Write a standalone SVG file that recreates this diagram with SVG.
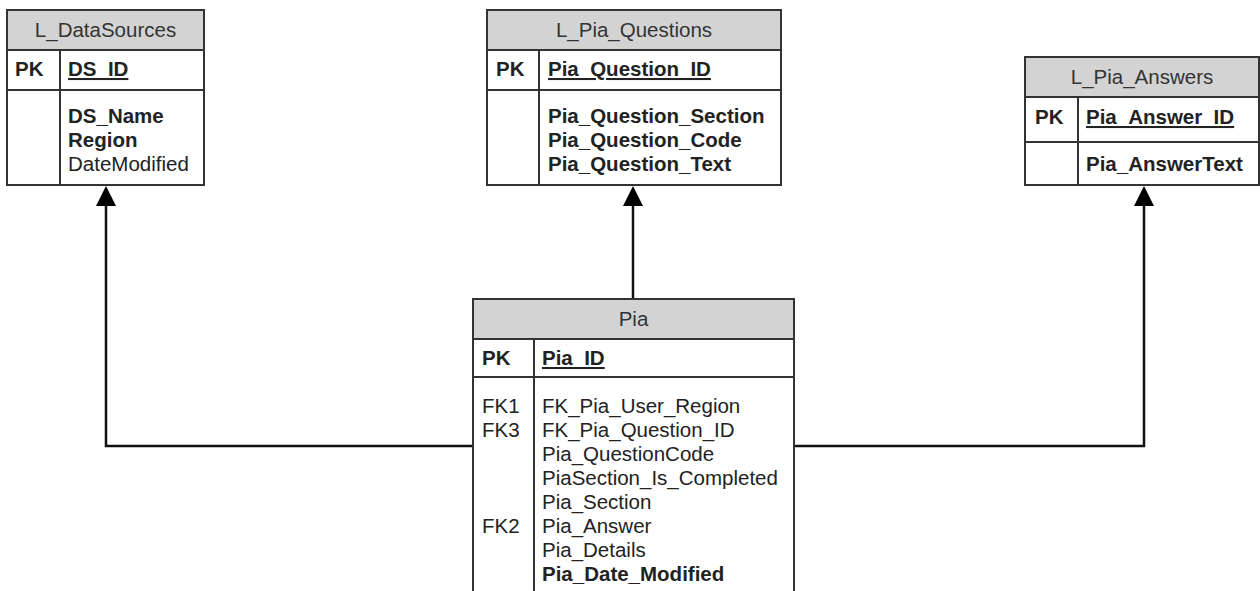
<svg xmlns="http://www.w3.org/2000/svg" width="1260" height="591" viewBox="0 0 1260 591">
<style>
.box{fill:#fff;stroke:#333;stroke-width:2}
.hdr{fill:#d3d3d3;stroke:#333;stroke-width:2}
.ln{stroke:#333;stroke-width:2;fill:none}
text{font-family:"Liberation Sans",Arial,sans-serif;font-size:20.5px;fill:#222}
.h{text-anchor:middle;fill:#333}
.b{font-weight:bold}
.u{text-decoration:underline}
.conn{stroke:#111;stroke-width:2.5;fill:none}
.ah{fill:#000}
</style>
<rect width="1260" height="591" fill="#fff"/>
<g id="connectors">
<path class="conn" d="M473,446 H106 V206"/>
<path class="ah" d="M96,206 L106,186 L116,206 Z"/>
<path class="conn" d="M633,299 V206"/>
<path class="ah" d="M623,206 L633,186 L643,206 Z"/>
<path class="conn" d="M794,446 H1144 V206"/>
<path class="ah" d="M1134,206 L1144,186 L1154,206 Z"/>
</g>
<g id="L_DataSources">
<rect class="box" x="7" y="10" width="197" height="175"/>
<rect class="hdr" x="7" y="10" width="197" height="40"/>
<line class="ln" x1="7" y1="90" x2="204" y2="90"/>
<line class="ln" x1="60" y1="50" x2="60" y2="185"/>
<text class="h" x="105.5" y="37">L_DataSources</text>
<text class="b" x="15" y="76">PK</text>
<text class="b u" x="68" y="76">DS_ID</text>
<text class="b" x="68" y="123">DS_Name</text>
<text class="b" x="68" y="147">Region</text>
<text x="68" y="171">DateModified</text>
</g>
<g id="L_Pia_Questions">
<rect class="box" x="487" y="10" width="294" height="175"/>
<rect class="hdr" x="487" y="10" width="294" height="40"/>
<line class="ln" x1="487" y1="90" x2="781" y2="90"/>
<line class="ln" x1="539" y1="50" x2="539" y2="185"/>
<text class="h" x="634" y="37">L_Pia_Questions</text>
<text class="b" x="496" y="76">PK</text>
<text class="b u" x="548" y="76">Pia_Question_ID</text>
<text class="b" x="548" y="123">Pia_Question_Section</text>
<text class="b" x="548" y="147">Pia_Question_Code</text>
<text class="b" x="548" y="171">Pia_Question_Text</text>
</g>
<g id="L_Pia_Answers">
<rect class="box" x="1025" y="57" width="234" height="128"/>
<rect class="hdr" x="1025" y="57" width="234" height="40"/>
<line class="ln" x1="1025" y1="142" x2="1259" y2="142"/>
<line class="ln" x1="1078" y1="97" x2="1078" y2="185"/>
<text class="h" x="1142" y="84">L_Pia_Answers</text>
<text class="b" x="1035" y="124">PK</text>
<text class="b u" x="1086" y="124">Pia_Answer_ID</text>
<text class="b" x="1086" y="171">Pia_AnswerText</text>
</g>
<g id="Pia">
<rect class="box" x="473" y="299" width="321" height="300"/>
<rect class="hdr" x="473" y="299" width="321" height="40"/>
<line class="ln" x1="473" y1="377" x2="794" y2="377"/>
<line class="ln" x1="534" y1="339" x2="534" y2="599"/>
<text class="h" x="633.5" y="326">Pia</text>
<text class="b" x="482" y="365">PK</text>
<text class="b u" x="542" y="365">Pia_ID</text>
<text x="482" y="413">FK1</text>
<text x="482" y="437">FK3</text>
<text x="482" y="533">FK2</text>
<text x="542" y="413">FK_Pia_User_Region</text>
<text x="542" y="437">FK_Pia_Question_ID</text>
<text x="542" y="461">Pia_QuestionCode</text>
<text x="542" y="485">PiaSection_Is_Completed</text>
<text x="542" y="509">Pia_Section</text>
<text x="542" y="533">Pia_Answer</text>
<text x="542" y="557">Pia_Details</text>
<text class="b" x="542" y="581">Pia_Date_Modified</text>
</g>
</svg>
